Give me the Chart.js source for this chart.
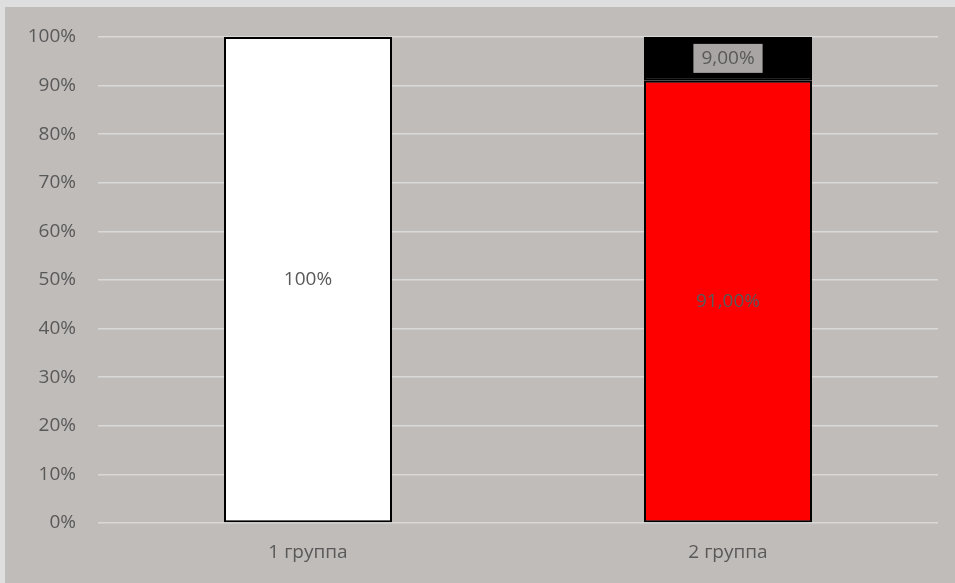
<!DOCTYPE html>
<html>
<head>
<meta charset="utf-8">
<script src="https://cdn.jsdelivr.net/npm/chart.js@4"></script>
<style>
  html, body { margin: 0; padding: 0; background: #dedede; }
  #wrap { width: 955px; height: 583px; position: relative; }
</style>
</head>
<body>
<div id="wrap"><canvas id="chart"></canvas></div>
<script>
// Data
const categories = ['1 группа', '2 группа'];
const whiteValues = [100, null];
const redValues = [null, 91];
const blackValues = [null, 9];
const valueLabels = [['100%', ''], ['', '91,00%'], ['', '9,00%']];

const FONT = '"Open Sans", "Noto Sans", sans-serif';
const TEXT = '#595959';

// Background with the light outer frame
const background = {
  id: 'background',
  beforeDraw(chart) {
    const ctx = chart.ctx;
    ctx.save();
    ctx.fillStyle = '#dedede';
    ctx.fillRect(0, 0, chart.width, chart.height);
    ctx.fillStyle = '#c0bcba';
    ctx.fillRect(5, 7, chart.width - 5, chart.height - 7);
    ctx.restore();
  }
};

// Value labels in the middle of each segment
const segmentLabels = {
  id: 'segmentLabels',
  afterDatasetsDraw(chart) {
    const ctx = chart.ctx;
    ctx.save();
    ctx.font = '19px ' + FONT;
    ctx.textAlign = 'center';
    ctx.textBaseline = 'middle';
    chart.data.datasets.forEach((ds, i) => {
      chart.getDatasetMeta(i).data.forEach((bar, j) => {
        const txt = valueLabels[i][j];
        if (!txt) return;
        const y = (bar.y + bar.base) / 2;
        if (i === 2) {
          const w = ctx.measureText(txt).width + 16;
          ctx.fillStyle = '#a9a5a4';
          ctx.fillRect(bar.x - w / 2, y - 15, w, 29);
        }
        ctx.fillStyle = TEXT;
        ctx.fillText(txt, bar.x, y);
      });
    });
    ctx.restore();
  }
};

new Chart(document.getElementById('chart').getContext('2d'), {
  type: 'bar',
  data: {
    labels: categories,
    datasets: [
      { data: whiteValues, backgroundColor: '#ffffff', borderColor: '#000000', borderWidth: 2, borderSkipped: false },
      { data: redValues, backgroundColor: '#ff0000', borderColor: '#000000', borderWidth: 2, borderSkipped: false },
      { data: blackValues, backgroundColor: '#000000', borderColor: '#000000', borderWidth: 2, borderSkipped: false }
    ]
  },
  options: {
    responsive: true,
    maintainAspectRatio: false,
    animation: false,
    categoryPercentage: 1,
    barPercentage: 0.4,
    layout: { padding: { left: 5, top: 37, right: 17, bottom: 0 } },
    plugins: { legend: { display: false }, tooltip: { enabled: false } },
    scales: {
      x: {
        stacked: true,
        afterFit(axis) { axis.height = 60; },
        grid: { display: false },
        border: { display: false },
        ticks: { color: TEXT, font: { family: FONT, size: 19 }, padding: 10 }
      },
      y: {
        stacked: true,
        min: 0,
        max: 100,
        afterFit(axis) { axis.width = 93; },
        grid: { color: '#d9d9d9', lineWidth: 1.5, drawTicks: false },
        border: { display: false },
        ticks: {
          stepSize: 10,
          color: TEXT,
          padding: 22,
          font: { family: FONT, size: 19 },
          callback: v => v + '%'
        }
      }
    }
  },
  plugins: [background, segmentLabels]
});
</script>
</body>
</html>
